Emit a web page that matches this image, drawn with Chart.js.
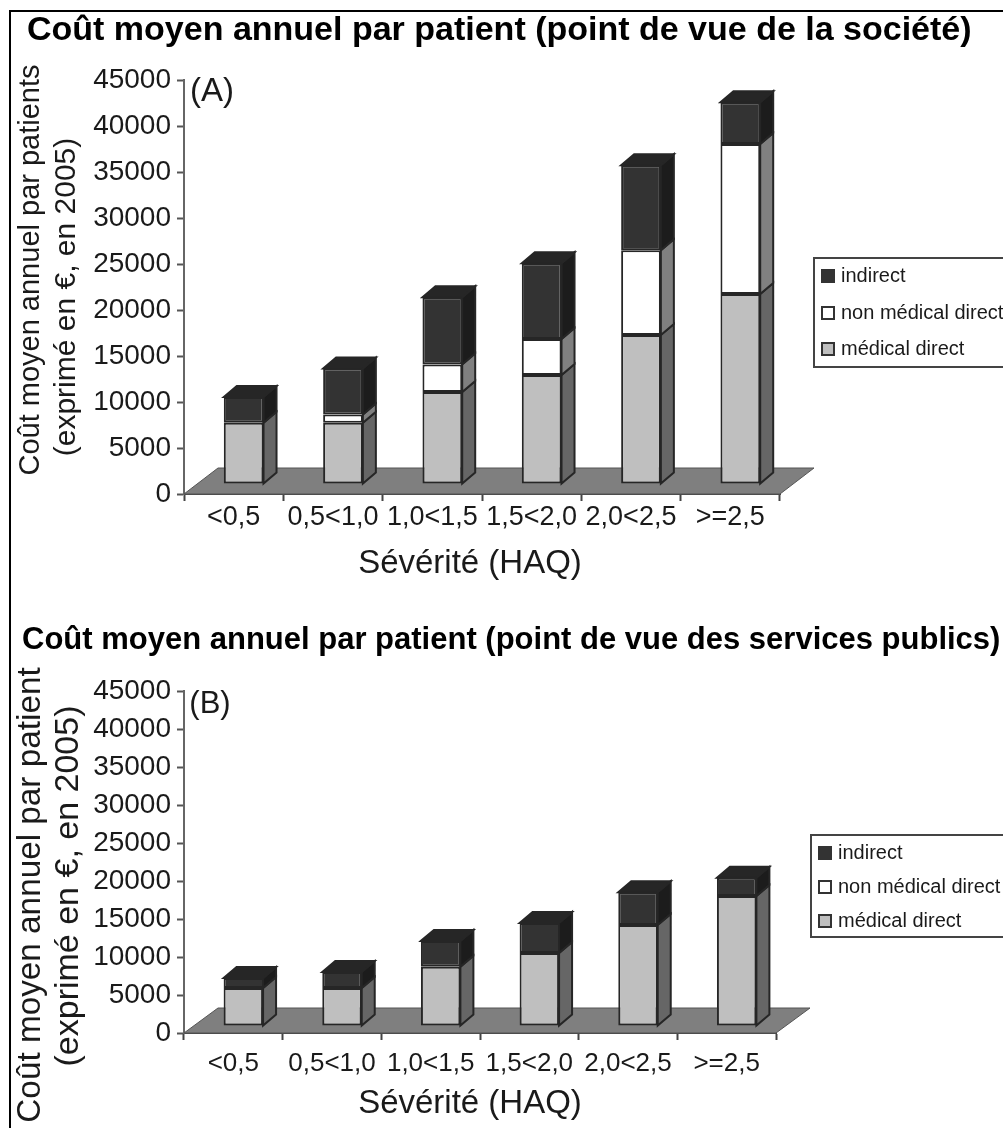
<!DOCTYPE html>
<html>
<head>
<meta charset="utf-8">
<title>Coût moyen annuel par patient</title>
<script src="https://cdn.jsdelivr.net/npm/chart.js@4"></script>
<style>
  html, body { margin: 0; padding: 0; background: #fff; overflow: hidden; }
  #page { position: relative; width: 1003px; height: 1128px; }
  #frame { position: absolute; left: 9px; top: 10px; right: -5px; bottom: -5px; border: 2px solid #000; }
  canvas { position: absolute; left: 0; }
  #chartA { top: 0; }
  #chartB { top: 610px; }
</style>
</head>
<body>
<div id="page">
  <canvas id="chartA" width="1003" height="610"></canvas>
  <canvas id="chartB" width="1003" height="518"></canvas>
  <div id="frame"></div>
</div>
<script>
const categories = ["<0,5", "0,5<1,0", "1,0<1,5", "1,5<2,0", "2,0<2,5", ">=2,5"];
const seriesNames = ["médical direct", "non médical direct", "indirect"];

// panel A, societal view
const medicalA = [6650, 6650, 10000, 11850, 16200, 20650];
const nonMedicalA = [0, 900, 3000, 3900, 9200, 16300];
const indirectA = [2800, 5000, 7300, 8250, 9250, 4550];

// panel B, public services view
const medicalB = [5000, 5000, 7800, 9600, 13300, 17100];
const nonMedicalB = [0, 0, 0, 0, 0, 0];
const indirectB = [1300, 2100, 3400, 3950, 4300, 2400];

const FRONT = ["#bfbfbf", "#ffffff", "#333333"];
const SIDE = ["#666666", "#808080", "#1c1c1c"];
const TOP = ["#8c8c8c", "#aaaaaa", "#262626"];
const EDGE = "#262626";
const FONT = "'Liberation Sans', Arial, sans-serif";

function put(ctx, text, x, y, size, rotate) {
  ctx.save();
  ctx.translate(x, y);
  if (rotate) ctx.rotate(-Math.PI / 2);
  ctx.font = size + "px " + FONT;
  ctx.fillStyle = "#1a1a1a";
  ctx.textAlign = "center";
  ctx.textBaseline = "middle";
  ctx.fillText(text, 0, 0);
  ctx.restore();
}

function poly(ctx, pts, fill) {
  ctx.beginPath();
  pts.forEach((p, i) => i ? ctx.lineTo(p[0], p[1]) : ctx.moveTo(p[0], p[1]));
  ctx.closePath();
  ctx.fillStyle = fill;
  ctx.fill();
  ctx.strokeStyle = EDGE;
  ctx.lineWidth = 2;
  ctx.stroke();
}

// floor, bar depth faces and the labels that sit outside the scales
const pseudo3d = {
  id: "pseudo3d",
  beforeDatasetsDraw(chart, args, opts) {
    const ctx = chart.ctx, area = chart.chartArea;
    const y0 = chart.scales.y.getPixelForValue(0);
    ctx.save();
    ctx.beginPath();
    ctx.moveTo(area.left, y0);
    ctx.lineTo(area.left + opts.floorX, y0 - opts.floorY);
    ctx.lineTo(area.right + opts.floorX, y0 - opts.floorY);
    ctx.lineTo(area.right, y0);
    ctx.closePath();
    ctx.fillStyle = "#7f7f7f";
    ctx.fill();
    ctx.strokeStyle = "#555555";
    ctx.lineWidth = 1;
    ctx.stroke();
    ctx.restore();

    // bars stand in the middle of the floor
    ctx.save();
    ctx.translate(opts.shiftX, -opts.shiftY);
    const dx = opts.depthX, dy = opts.depthY;
    categories.forEach((c, i) => {
      let topSet = -1;
      chart.data.datasets.forEach((ds, d) => { if (ds.data[i] > 0) topSet = d; });
      chart.data.datasets.forEach((ds, d) => {
        if (!(ds.data[i] > 0)) return;
        const bar = chart.getDatasetMeta(d).data[i];
        const left = bar.x - bar.width / 2, right = bar.x + bar.width / 2;
        poly(ctx, [[right, bar.y], [right + dx, bar.y - dy], [right + dx, bar.base - dy], [right, bar.base]], SIDE[d]);
        if (d === topSet) {
          poly(ctx, [[left, bar.y], [left + dx, bar.y - dy], [right + dx, bar.y - dy], [right, bar.y]], TOP[d]);
        }
      });
    });
  },
  afterDatasetsDraw(chart, args, opts) {
    const ctx = chart.ctx;
    ctx.restore();

    const top = chart.canvas.id === "chartB" ? 610 : 0;

    // the title is wider than the plot, the built-in title would squeeze it
    ctx.save();
    ctx.font = "bold " + opts.titleSize + "px " + FONT;
    ctx.fillStyle = "#000";
    ctx.textAlign = "left";
    ctx.textBaseline = "middle";
    ctx.fillText(opts.title, opts.titleX, opts.titleY - top);
    ctx.restore();

    put(ctx, opts.letter, opts.letterX, opts.letterY - top, opts.letterSize);
    opts.yLines.forEach(l => put(ctx, l.text, l.x, l.y - top, l.size, true));
    put(ctx, "Sévérité (HAQ)", opts.xTitleX, opts.xTitleY - top, 33);

    // legend, top series first, as in the original
    const b = opts.legend;
    ctx.save();
    ctx.fillStyle = "#fff";
    ctx.strokeStyle = "#444";
    ctx.lineWidth = 2;
    ctx.fillRect(b.x, b.y - top, b.w, b.h);
    ctx.strokeRect(b.x, b.y - top, b.w, b.h);
    seriesNames.slice().reverse().forEach((name, i) => {
      const cy = b.rows[i] - top;
      ctx.fillStyle = FRONT[2 - i];
      ctx.fillRect(b.x + 8, cy - 6, 12, 12);
      ctx.strokeStyle = "#333";
      ctx.lineWidth = 2;
      ctx.strokeRect(b.x + 8, cy - 6, 12, 12);
      ctx.font = "20px " + FONT;
      ctx.fillStyle = "#1a1a1a";
      ctx.textAlign = "left";
      ctx.textBaseline = "middle";
      ctx.fillText(name, b.x + 27, cy);
    });
    ctx.restore();
  }
};

function makePanel(id, p) {
  return new Chart(document.getElementById(id), {
    type: "bar",
    data: {
      labels: categories,
      datasets: p.series.map((values, d) => ({
        label: seriesNames[d],
        data: values,
        backgroundColor: FRONT[d],
        borderColor: EDGE,
        borderWidth: 2,
        borderSkipped: false,
        barPercentage: 0.4,
        categoryPercentage: 1
      }))
    },
    options: {
      responsive: false,
      animation: false,
      layout: { padding: { left: 0, top: p.top, right: p.right, bottom: 0 } },
      scales: {
        x: {
          stacked: true,
          afterFit(scale) { scale.height = p.xHeight; },
          grid: { drawOnChartArea: false, tickLength: 7, tickColor: "#444", tickWidth: 2 },
          border: { color: "#444", width: 2 },
          ticks: { color: "#1a1a1a", font: { family: FONT, size: p.catSize }, padding: p.catPad, maxRotation: 0, autoSkip: false }
        },
        y: {
          stacked: true,
          min: 0,
          max: 45000,
          afterFit(scale) { scale.width = 184; },
          grid: { drawOnChartArea: false, tickLength: 7, tickColor: "#555", tickWidth: 2 },
          border: { color: "#666", width: 2 },
          ticks: { stepSize: 5000, color: "#1a1a1a", font: { family: FONT, size: 28 }, padding: 6, callback: v => String(v) }
        }
      },
      plugins: {
        legend: { display: false },
        tooltip: { enabled: false },
        pseudo3d: p.decor
      }
    },
    plugins: [pseudo3d]
  });
}

makePanel("chartA", {
  series: [medicalA, nonMedicalA, indirectA],
  top: 80, right: 223, xHeight: 116,
  catSize: 27, catPad: 0,
  decor: {
    title: "Coût moyen annuel par patient (point de vue de la société)",
    titleSize: 34, titleX: 27, titleY: 31,
    floorX: 34, floorY: 26, shiftX: 10, shiftY: 10, depthX: 13, depthY: 11,
    letter: "(A)", letterSize: 33, letterX: 212, letterY: 92,
    yLines: [
      { text: "Coût moyen annuel par patients", x: 31, y: 270, size: 29 },
      { text: "(exprimé en €, en 2005)", x: 67, y: 297, size: 30 }
    ],
    xTitleX: 470, xTitleY: 564,
    legend: { x: 814, y: 258, w: 200, h: 109, rows: [276, 313, 349] }
  }
});

makePanel("chartB", {
  series: [medicalB, nonMedicalB, indirectB],
  top: 81, right: 227, xHeight: 95,
  catSize: 26, catPad: 8,
  decor: {
    title: "Coût moyen annuel par patient (point de vue des services publics)",
    titleSize: 31, titleX: 22, titleY: 640,
    floorX: 34, floorY: 25, shiftX: 10, shiftY: 7, depthX: 13, depthY: 11,
    letter: "(B)", letterSize: 31, letterX: 210, letterY: 704,
    yLines: [
      { text: "Coût moyen annuel par patient", x: 31, y: 895, size: 33.3 },
      { text: "(exprimé en €, en 2005)", x: 69, y: 886, size: 34 }
    ],
    xTitleX: 470, xTitleY: 1104,
    legend: { x: 811, y: 835, w: 200, h: 102, rows: [853, 887, 921] }
  }
});
</script>
</body>
</html>
